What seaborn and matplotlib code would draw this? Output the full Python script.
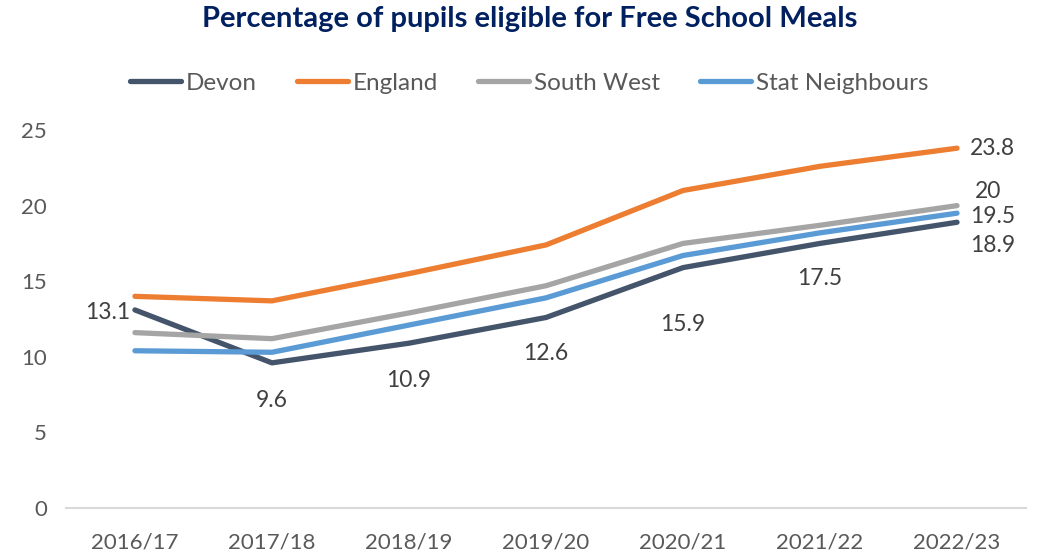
import pandas as pd
import matplotlib.pyplot as plt
import seaborn as sns

# values
years = ["2016/17", "2017/18", "2018/19", "2019/20", "2020/21", "2021/22", "2022/23"]
devon = [13.1, 9.6, 10.9, 12.6, 15.9, 17.5, 18.9]
england = [14.0, 13.7, 15.5, 17.4, 21.0, 22.6, 23.8]
south_west = [11.6, 11.2, 12.9, 14.7, 17.5, 18.7, 20.0]
stat_neigh = [10.4, 10.3, 12.1, 13.9, 16.7, 18.2, 19.5]

series = ["Devon", "England", "South West", "Stat Neighbours"]
colours = ["#44546A", "#ED7D31", "#A5A5A5", "#5B9BD5"]

df = pd.DataFrame({"Year": years * 4,
                   "Area": [s for s in series for _ in years],
                   "Pct": devon + england + south_west + stat_neigh})
df["x"] = df["Year"].map({y: i for i, y in enumerate(years)})

sns.set_style("white")
plt.rcParams["font.family"] = ["Lato", "DejaVu Sans"]

fig = plt.figure(figsize=(10.38, 5.55), dpi=100)
ax = fig.add_axes([0.064, 0.0847, 0.924, 0.681])

sns.lineplot(data=df, x="x", y="Pct", hue="Area", palette=colours,
             linewidth=3.8, ax=ax, solid_capstyle="round", clip_on=False)

ax.set_xlim(-0.5, len(years) - 0.5)
ax.set_ylim(0, 25)
ax.set_xticks(range(len(years)))
ax.set_xticklabels(years)
ax.set_yticks(range(0, 26, 5))
ax.set_xlabel("")
ax.set_ylabel("")
ax.tick_params(axis="both", length=0, labelsize=16, labelcolor="#595959")
ax.tick_params(axis="y", pad=14)
ax.tick_params(axis="x", pad=18)
for s in ["top", "right", "left"]:
    ax.spines[s].set_visible(False)
ax.spines["bottom"].set_color("#D9D9D9")
ax.spines["bottom"].set_linewidth(1.5)

# data labels (Devon along the line, others at the end)
lab = dict(fontsize=16.5, color="#404040", textcoords="offset pixels", va="center")
offsets = [(-5, -3, "right"), (0, -38, "center"), (0, -37, "center"), (0, -36, "center"),
           (0, -57, "center"), (0, -35, "center"), (13, -23, "left")]
for i, (dx, dy, ha) in enumerate(offsets):
    ax.annotate(f"{devon[i]:g}", (i, devon[i]), xytext=(dx, dy), ha=ha, **lab)
last = len(years) - 1
ax.annotate(f"{england[last]:g}", (last, england[last]), xytext=(13, 0), ha="left", **lab)
ax.annotate(f"{south_west[last]:g}", (last, south_west[last]), xytext=(18, 14), ha="left", **lab)
ax.annotate(f"{stat_neigh[last]:g}", (last, stat_neigh[last]), xytext=(13, -3), ha="left", **lab)

handles, labels = ax.get_legend_handles_labels()
ax.legend(handles, labels, ncol=4, frameon=False, loc="center",
          bbox_to_anchor=(0.51, 0.85), bbox_transform=fig.transFigure,
          fontsize=17.5, labelcolor="#595959", handlelength=2.1,
          handletextpad=0.2, columnspacing=1.65)

fig.suptitle("Percentage of pupils eligible for Free School Meals", x=0.51, y=0.99,
             fontsize=21, fontweight="bold", color="#002060")

fig.savefig("out.png", dpi=100)
